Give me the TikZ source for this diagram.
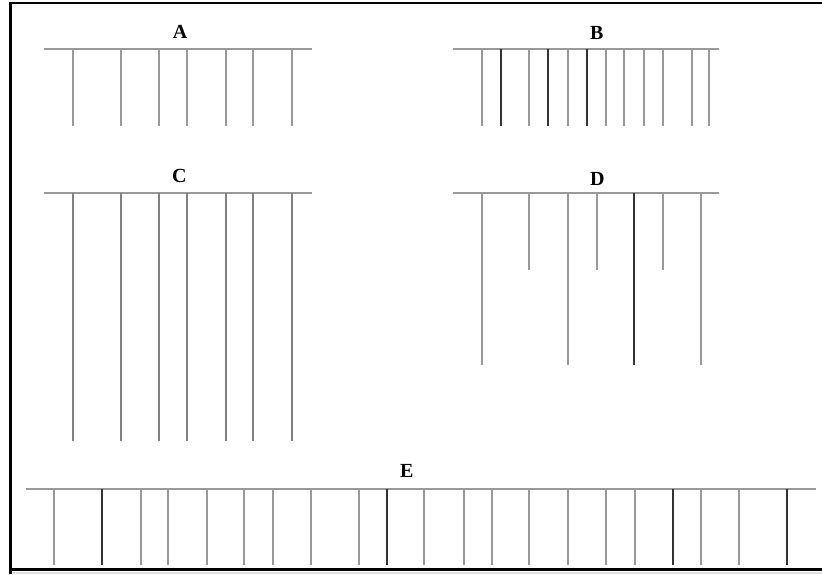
\documentclass[tikz,border=0pt]{standalone}
\usepackage{fontspec}
\setmainfont{Liberation Serif}
\begin{document}
\begin{tikzpicture}[x=1pt,y=-1pt,
  lite/.style={draw=black!40,line width=1.7pt},
  dark/.style={draw=black!80,line width=1.7pt},
  lbl/.style={font=\bfseries\fontsize{20}{20}\selectfont,inner sep=0pt}]
\useasboundingbox (0,0) rectangle (822,574);
% shadow and frame
\fill[black!12] (12,571.5) rectangle (822,574);
\draw[black,line width=2.6pt] (10.5,574) -- (10.5,3) -- (830,3);
\draw[black,line width=2.6pt] (10.5,569.5) -- (830,569.5);
% A
\node[lbl] (A) at (180,31.5) {A};
\draw[lite] (44,49.3) -- (312,49.3);
\foreach \x in {72.7,121.3,158.7,187.3,226,253.3,292}
  \draw[lite] (\x,49.3) -- (\x,125.7);
% B
\node[lbl] (B) at (596.7,32.5) {B};
\draw[lite] (453.3,49.3) -- (719.3,49.3);
\foreach \x in {482,529,567.7,606.3,624.3,643.7,663,692,709.3}
  \draw[lite] (\x,49.3) -- (\x,125.7);
\foreach \x in {501.3,548.3,587}
  \draw[dark] (\x,49.3) -- (\x,125.7);
% C
\node[lbl] (C) at (179.3,175.5) {C};
\draw[lite] (44,193.3) -- (312,193.3);
\foreach \x in {72.7,121.3,158.7,187.3,226,253.3,292}
  \draw[lite,draw=black!50] (\x,193.3) -- (\x,441);
% D
\node[lbl] (D) at (597.3,179) {D};
\draw[lite] (453.3,193.3) -- (719.3,193.3);
\foreach \x in {482,567.7,701}
  \draw[lite] (\x,193.3) -- (\x,365);
\draw[dark] (633.7,193.3) -- (633.7,365);
\foreach \x in {529,596.7,662.7}
  \draw[lite] (\x,193.3) -- (\x,270);
% E
\node[lbl] (E) at (406.7,470.5) {E};
\draw[lite] (26,489) -- (816,489);
\foreach \x in {54,140.7,168,206.7,244,272.7,311.3,358.7,424,464.3,491.7,529,567.7,606.3,635.3,701.3,738.7}
  \draw[lite] (\x,489) -- (\x,565);
\foreach \x in {102,387.3,672.7,786.7}
  \draw[dark] (\x,489) -- (\x,565);
\end{tikzpicture}
\end{document}
